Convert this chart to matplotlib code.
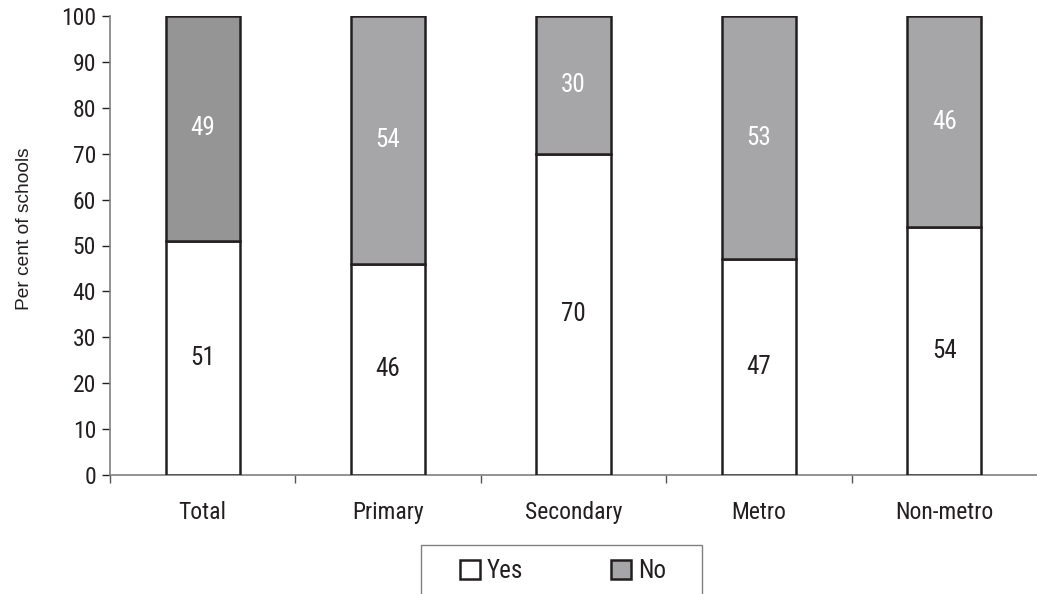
import matplotlib
matplotlib.use("Agg")
import matplotlib.pyplot as plt
from matplotlib.patches import Rectangle
from matplotlib import font_manager

categories = ["Total", "Primary", "Secondary", "Metro", "Non-metro"]
yes_vals = [51, 46, 70, 47, 54]
no_vals = [49, 54, 30, 53, 46]
no_colors = ["#959595", "#a6a6a8", "#a6a6a8", "#a6a6a8", "#a6a6a8"]

names = sorted({f.name for f in font_manager.fontManager.ttflist})
narrow = [n for n in names if ("Narrow" in n or "Condensed" in n)]
pref = ["Liberation Sans Narrow", "Arial Narrow", "Roboto Condensed", "Open Sans Condensed"]
fam = None
for p in pref:
    if p in names:
        fam = p
        break
if fam is None and narrow:
    fam = narrow[0]
if fam is not None:
    plt.rcParams["font.family"] = [fam, "DejaVu Sans"]
    base = 17
else:
    plt.rcParams["font.family"] = ["Liberation Sans", "DejaVu Sans"]
    base = 15

W, H = 1037, 594
fig = plt.figure(figsize=(W / 100, H / 100), dpi=100)
ax = fig.add_axes([110 / W, (H - 475) / H, (W - 110) / W, (475 - 16) / H])

x = list(range(len(categories)))
ax.bar(x, yes_vals, width=0.4, color="white", edgecolor="#231f20", linewidth=1.8, zorder=3)
ax.bar(x, no_vals, bottom=yes_vals, width=0.4, color=no_colors, edgecolor="#231f20", linewidth=1.8, zorder=3)

for i in x:
    ax.text(i, yes_vals[i] / 2, str(yes_vals[i]), ha="center", va="center", fontsize=base + 1, color="#231f20", zorder=4)
    ax.text(i, yes_vals[i] + no_vals[i] / 2, str(no_vals[i]), ha="center", va="center", fontsize=base + 1, color="white", zorder=4)

ax.set_xlim(-0.5, len(categories) - 0.5)
ax.set_ylim(0, 100)
ax.set_yticks(range(0, 101, 10))
ax.tick_params(axis="y", labelsize=base, length=6, width=1, color="#231f20", direction="out", pad=4, labelcolor="#231f20")
ax.set_xticks(x)
ax.set_xticklabels(categories, fontsize=base, color="#231f20")
ax.set_xticks([i + 0.5 for i in range(-1, len(categories) - 1)], minor=True)
ax.tick_params(axis="x", which="major", length=0, pad=19)
ax.tick_params(axis="x", which="minor", length=6, width=1, color="#555555", direction="out")
for s in ["top", "right"]:
    ax.spines[s].set_visible(False)
ax.spines["left"].set_color("#808080")
ax.spines["bottom"].set_color("#808080")
ax.spines["left"].set_linewidth(1.2)
ax.spines["bottom"].set_linewidth(1.2)
ax.set_ylabel("Per cent of schools", fontsize=13.8, color="#231f20", family=["Liberation Sans", "DejaVu Sans"])
ax.yaxis.set_label_coords((33 - 110) / (W - 110), (475 - 229) / (475 - 16))

# legend frame
fig.patches.append(Rectangle((421 / W, -0.02), (702 - 421) / W, (594 - 545) / H + 0.02,
                             transform=fig.transFigure, facecolor="white", edgecolor="#808080", linewidth=1.0))
handles = [Rectangle((0, 0), 1, 1, facecolor="white", edgecolor="#231f20", linewidth=1.8),
           Rectangle((0, 0), 1, 1, facecolor="#a6a6a8", edgecolor="#231f20", linewidth=1.8)]
leg = fig.legend(handles, ["Yes", "No"], loc="center", bbox_to_anchor=(563 / W, (H - 571) / H), ncol=2,
                 frameon=False, fontsize=base + 1, columnspacing=3.5, handlelength=0.8, handleheight=0.8,
                 handletextpad=0.3)
for t in leg.get_texts():
    t.set_color("#231f20")

fig.savefig("out.png", dpi=100)
